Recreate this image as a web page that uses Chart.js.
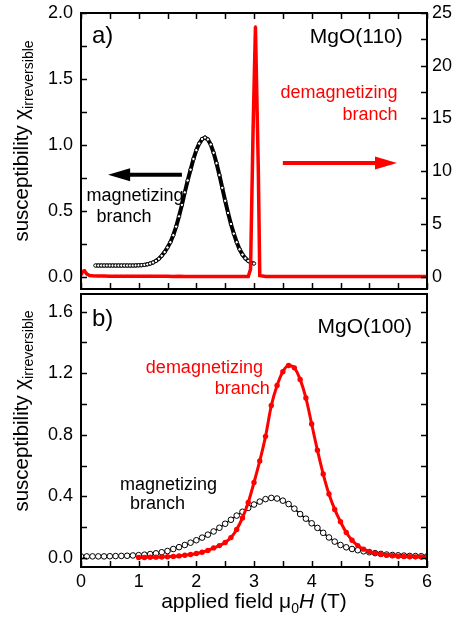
<!DOCTYPE html>
<html>
<head>
<meta charset="utf-8">
<script src="https://cdn.jsdelivr.net/npm/chart.js@4.4.1/dist/chart.umd.min.js"></script>
<style>
    html, body { margin: 0; padding: 0; background: #fff; }
    #wrap { position: relative; width: 453px; height: 621px; }
    #chartA { position: absolute; left: 0; top: 0; }
    #chartB { position: absolute; left: 0; top: 289px; }
</style>
</head>
<body>
<div id="wrap">
    <canvas id="chartA" width="453" height="300"></canvas>
    <canvas id="chartB" width="453" height="332"></canvas>
</div>
<script>
// ---- data ----
// panel a) MgO(110), magnetizing branch (left axis)
const topMagField = [0.25, 0.30, 0.35, 0.40, 0.45, 0.50, 0.55, 0.60, 0.65, 0.70, 0.75, 0.80, 0.85, 0.90, 0.95,
    1.00, 1.05, 1.10, 1.15, 1.20, 1.25, 1.30, 1.35, 1.40, 1.45, 1.50, 1.55, 1.60, 1.65, 1.70, 1.75, 1.80, 1.85, 1.90, 1.95,
    2.00, 2.05, 2.10, 2.15, 2.20, 2.25, 2.30, 2.35, 2.40, 2.45, 2.50, 2.55, 2.60, 2.65, 2.70, 2.75, 2.80, 2.85, 2.90, 2.95, 3.00];
const topMagChi = [0.085, 0.085, 0.085, 0.085, 0.085, 0.085, 0.085, 0.085, 0.085, 0.085, 0.085, 0.085, 0.085, 0.085, 0.086,
    0.087, 0.088, 0.090, 0.094, 0.100, 0.108, 0.120, 0.136, 0.159, 0.187, 0.222, 0.262, 0.315, 0.380, 0.458, 0.545, 0.640, 0.730, 0.812, 0.893,
    0.960, 1.010, 1.044, 1.055, 1.041, 1.003, 0.940, 0.861, 0.771, 0.674, 0.576, 0.484, 0.400, 0.327, 0.262, 0.208, 0.168, 0.140, 0.120, 0.107, 0.100];

// panel a) demagnetizing branch (right axis)
const topDemagField = [0, 0.03, 0.06, 0.10, 0.15, 0.2, 0.3, 0.4, 0.5, 0.6, 0.7, 0.8, 0.9, 1.0, 1.1, 1.2, 1.3, 1.4, 1.5,
    1.6, 1.7, 1.8, 1.9, 2.0, 2.1, 2.2, 2.3, 2.4, 2.5, 2.6, 2.7, 2.8, 2.9, 2.94, 2.985, 3.025, 3.075, 3.1,
    3.2, 3.3, 3.4, 3.5, 3.6, 3.7, 3.8, 3.9, 4.0, 4.1, 4.2, 4.3, 4.4, 4.5, 4.6, 4.7, 4.8, 4.9, 5.0,
    5.1, 5.2, 5.3, 5.4, 5.5, 5.6, 5.7, 5.8, 5.9, 6.0];
const topDemagChi = [0.15, 0.50, 0.55, 0.25, 0.10, 0.08, 0.06, 0.06, 0.05, 0.05, 0.04, 0.05, 0.04, 0.04, 0.03, 0.04, 0.03, 0.03, 0.03,
    0.02, 0.03, 0.02, 0.02, 0.02, 0.02, 0.02, 0.01, 0.02, 0.01, 0.01, 0.01, 0.01, 0.02, 0.7, 14.2, 23.7, 10.1, 0.1,
    0.02, 0.02, 0.02, 0.02, 0.02, 0.02, 0.02, 0.02, 0.02, 0.02, 0.02, 0.02, 0.02, 0.02, 0.02, 0.02, 0.02, 0.02, 0.02,
    0.02, 0.02, 0.02, 0.02, 0.02, 0.02, 0.02, 0.02, 0.02, 0.02];

// panel b) MgO(100), magnetizing branch
const botMagField = [0.0, 0.1, 0.2, 0.3, 0.4, 0.5, 0.6, 0.7, 0.8, 0.9, 1.0, 1.1, 1.2, 1.3, 1.4, 1.5, 1.6, 1.7, 1.8, 1.9,
    2.0, 2.1, 2.2, 2.3, 2.4, 2.5, 2.6, 2.7, 2.8, 2.9, 3.0, 3.1, 3.2, 3.3, 3.4, 3.5, 3.6, 3.7, 3.8, 3.9,
    4.0, 4.1, 4.2, 4.3, 4.4, 4.5, 4.6, 4.7, 4.8, 4.9, 5.0, 5.1, 5.2, 5.3, 5.4, 5.5, 5.6, 5.7, 5.8, 5.9, 6.0];
const botMagChi = [0.010, 0.010, 0.010, 0.010, 0.010, 0.011, 0.012, 0.013, 0.014, 0.016, 0.018, 0.021, 0.025, 0.030, 0.037, 0.045, 0.058, 0.070, 0.084, 0.099,
    0.115, 0.132, 0.151, 0.172, 0.196, 0.222, 0.248, 0.275, 0.300, 0.325, 0.347, 0.366, 0.382, 0.390, 0.386, 0.372, 0.350, 0.320, 0.285, 0.255,
    0.225, 0.195, 0.163, 0.133, 0.106, 0.084, 0.069, 0.058, 0.050, 0.043, 0.037, 0.031, 0.026, 0.022, 0.019, 0.017, 0.015, 0.013, 0.012, 0.011, 0.010];

// panel b) demagnetizing branch
const botDemagField = [1.0, 1.1, 1.2, 1.3, 1.4, 1.5, 1.6, 1.7, 1.8, 1.9, 2.0, 2.1, 2.2, 2.3, 2.4, 2.5, 2.6, 2.7, 2.8, 2.9,
    3.0, 3.1, 3.2, 3.3, 3.4, 3.5, 3.6, 3.7, 3.8, 3.9, 4.0, 4.1, 4.2, 4.3, 4.4, 4.5, 4.6, 4.7, 4.8, 4.9,
    5.0, 5.1, 5.2, 5.3, 5.4, 5.5, 5.6, 5.7, 5.8, 5.9, 6.0];
const botDemagChi = [0.003, 0.003, 0.004, 0.005, 0.006, 0.008, 0.010, 0.013, 0.017, 0.022, 0.029, 0.037, 0.049, 0.065, 0.080, 0.100, 0.132, 0.185, 0.260, 0.360,
    0.490, 0.630, 0.790, 0.990, 1.120, 1.210, 1.250, 1.235, 1.160, 1.040, 0.870, 0.700, 0.545, 0.415, 0.315, 0.235, 0.165, 0.115, 0.080, 0.057,
    0.042, 0.031, 0.023, 0.018, 0.014, 0.011, 0.009, 0.008, 0.007, 0.006, 0.005];

// tick labels
const xTicks = [0, 1, 2, 3, 4, 5, 6];
const topLeftTicks = [0, 0.5, 1.0, 1.5, 2.0];
const topRightTicks = [0, 5, 10, 15, 20, 25];
const botTicks = [0, 0.4, 0.8, 1.2, 1.6];

const FONT = '"Liberation Sans", Arial, Helvetica, sans-serif';
const RED = '#ff0000';

function pairs(xs, ys) {
    return xs.map((x, i) => ({ x: x, y: ys[i] }));
}

// majors plus a minor mark halfway between each pair
function withMinor(arr) {
    const out = [];
    for (let i = 0; i < arr.length; i++) {
        out.push(arr[i]);
        if (i < arr.length - 1) out.push((arr[i] + arr[i + 1]) / 2);
    }
    return out;
}

function fixTicks(values) {
    return function(scale) {
        scale.ticks = values.map(v => ({ value: v }));
    };
}

// fixed axis sizes, no label overflow padding
function fitWidth(w) {
    return function(s) { s.width = w; s.paddingTop = 0; s.paddingBottom = 0; };
}
function fitHeight(h) {
    return function(s) { s.height = h; s.paddingLeft = 0; s.paddingRight = 0; };
}

// frame + inward tick marks
const frameTicks = {
    id: 'frameTicks',
    afterDatasetsDraw(chart, args, opts) {
        const ctx = chart.ctx;
        const a = chart.chartArea;
        ctx.save();
        ctx.strokeStyle = '#000';
        ctx.lineWidth = 1.5;
        opts.marks.forEach(m => {
            const s = chart.scales[m.scale];
            m.values.forEach(v => {
                const p = Math.round(s.getPixelForValue(v)) + 0.5;
                ctx.beginPath();
                if (m.edge === 'left') { ctx.moveTo(a.left, p); ctx.lineTo(a.left + 6, p); }
                if (m.edge === 'right') { ctx.moveTo(a.right, p); ctx.lineTo(a.right - 6, p); }
                if (m.edge === 'bottom') { ctx.moveTo(p, a.bottom); ctx.lineTo(p, a.bottom - 6); }
                if (m.edge === 'top') { ctx.moveTo(p, a.top); ctx.lineTo(p, a.top + 6); }
                ctx.stroke();
            });
        });
        ctx.lineWidth = 2;
        ctx.strokeRect(a.left, a.top, a.right - a.left, a.bottom - a.top);
        ctx.restore();
    }
};

// text labels and arrows placed in data coordinates
const notes = {
    id: 'notes',
    afterDraw(chart, args, opts) {
        const ctx = chart.ctx;
        const sx = chart.scales.x;
        const sy = chart.scales.y;
        ctx.save();
        (opts.texts || []).forEach(t => {
            ctx.font = t.font;
            ctx.fillStyle = t.color;
            ctx.textAlign = t.align;
            ctx.textBaseline = 'middle';
            ctx.fillText(t.text, sx.getPixelForValue(t.x), sy.getPixelForValue(t.y));
        });
        (opts.arrows || []).forEach(ar => {
            const x1 = sx.getPixelForValue(ar.from);
            const x2 = sx.getPixelForValue(ar.to);
            const y = sy.getPixelForValue(ar.y);
            const dir = x2 > x1 ? 1 : -1;
            ctx.strokeStyle = ar.color;
            ctx.fillStyle = ar.color;
            ctx.lineWidth = 4;
            ctx.beginPath();
            ctx.moveTo(x1, y);
            ctx.lineTo(x2 - dir * 18, y);
            ctx.stroke();
            ctx.beginPath();
            ctx.moveTo(x2, y);
            ctx.lineTo(x2 - dir * 22, y - 6.5);
            ctx.lineTo(x2 - dir * 22, y + 6.5);
            ctx.closePath();
            ctx.fill();
        });
        ctx.restore();
    }
};

// axis titles with sub/italic parts
const titles = {
    id: 'titles',
    afterDraw(chart, args, opts) {
        const ctx = chart.ctx;
        ctx.save();
        ctx.fillStyle = '#000';
        ctx.textAlign = 'left';
        ctx.textBaseline = 'alphabetic';
        if (opts.yTitle) {
            ctx.save();
            ctx.translate(opts.yTitle.x, opts.yTitle.y);
            ctx.rotate(-Math.PI / 2);
            const f1 = '20.5px ' + FONT;
            const f2 = '14px ' + FONT;
            ctx.font = f1;
            const w1 = ctx.measureText('susceptibility ').width;
            const wc = ctx.measureText('\u03c7').width;
            ctx.font = f2;
            const w2 = ctx.measureText('irreversible').width;
            let x = -(w1 + wc + w2) / 2;
            ctx.font = f1;
            ctx.fillText('susceptibility ', x, 0);
            x += w1;
            ctx.fillText('\u03c7', x, 0);
            x += wc;
            ctx.font = f2;
            ctx.fillText('irreversible', x, 5);
            ctx.restore();
        }
        if (opts.xTitle) {
            const f1 = '21px ' + FONT;
            const fs = '14px ' + FONT;
            const fi = 'italic 21px ' + FONT;
            const parts = [
                { t: 'applied field \u03bc', f: f1, dy: 0 },
                { t: '0', f: fs, dy: 5 },
                { t: 'H', f: fi, dy: 0 },
                { t: ' (T)', f: f1, dy: 0 }
            ];
            let total = 0;
            parts.forEach(p => { ctx.font = p.f; p.w = ctx.measureText(p.t).width; total += p.w; });
            const a = chart.chartArea;
            let x = (a.left + a.right) / 2 - total / 2;
            parts.forEach(p => {
                ctx.font = p.f;
                ctx.fillText(p.t, x, opts.xTitle.y + p.dy);
                x += p.w;
            });
        }
        ctx.restore();
    }
};

const tickFont = { family: FONT, size: 18 };

// ---- panel a) ----
new Chart(document.getElementById('chartA'), {
    type: 'line',
    data: {
        datasets: [{
            label: 'demagnetizing branch',
            data: pairs(topDemagField, topDemagChi),
            yAxisID: 'y2',
            borderColor: RED,
            borderWidth: 3.5,
            pointRadius: 1.4,
            pointBorderWidth: 0,
            pointBackgroundColor: RED,
            tension: 0,
            order: 0
        }, {
            label: 'magnetizing branch',
            data: pairs(topMagField, topMagChi),
            yAxisID: 'y',
            borderColor: '#000',
            borderWidth: 4,
            pointRadius: 1.7,
            pointBackgroundColor: '#fff',
            pointBorderColor: '#000',
            pointBorderWidth: 1,
            tension: 0,
            order: 1
        }]
    },
    options: {
        responsive: false,
        animation: false,
        devicePixelRatio: 1,
        layout: { padding: { top: 13, bottom: 11, left: 0, right: 0 } },
        scales: {
            x: {
                type: 'linear', min: 0, max: 6,
                grid: { display: false, drawTicks: false },
                border: { display: false },
                ticks: { display: false },
                afterFit: fitHeight(0)
            },
            y: {
                position: 'left', min: -0.093, max: 2.0,
                grid: { display: false, drawTicks: false },
                border: { display: false },
                afterBuildTicks: fixTicks(topLeftTicks),
                ticks: { font: tickFont, color: '#000', padding: 8, callback: v => v.toFixed(1) },
                afterFit: fitWidth(81)
            },
            y2: {
                position: 'right', min: -1.17, max: 25,
                grid: { display: false, drawTicks: false },
                border: { display: false },
                afterBuildTicks: fixTicks(topRightTicks),
                ticks: { font: tickFont, color: '#000', padding: 5, callback: v => String(v) },
                afterFit: fitWidth(26)
            }
        },
        plugins: {
            legend: { display: false },
            tooltip: { enabled: false },
            frameTicks: {
                marks: [
                    { scale: 'x', edge: 'bottom', values: withMinor(xTicks) },
                    { scale: 'x', edge: 'top', values: withMinor(xTicks) },
                    { scale: 'y', edge: 'left', values: withMinor(topLeftTicks) },
                    { scale: 'y2', edge: 'right', values: withMinor(topRightTicks) }
                ]
            },
            notes: {
                texts: [
                    { text: 'a)', x: 0.19, y: 1.82, align: 'left', color: '#000', font: '24px ' + FONT },
                    { text: 'MgO(110)', x: 5.58, y: 1.82, align: 'right', color: '#000', font: '21px ' + FONT },
                    { text: 'demagnetizing', x: 5.49, y: 1.395, align: 'right', color: RED, font: '18px ' + FONT },
                    { text: 'branch', x: 5.49, y: 1.228, align: 'right', color: RED, font: '18px ' + FONT },
                    { text: 'magnetizing', x: 0.935, y: 0.613, align: 'center', color: '#000', font: '18px ' + FONT },
                    { text: 'branch', x: 0.745, y: 0.453, align: 'center', color: '#000', font: '18px ' + FONT }
                ],
                arrows: [
                    { from: 3.5, to: 5.48, y: 0.863, color: RED },
                    { from: 1.75, to: 0.47, y: 0.773, color: '#000' }
                ]
            },
            titles: { yTitle: { x: 28, y: 141 } }
        }
    },
    plugins: [frameTicks, notes, titles]
});

// ---- panel b) ----
new Chart(document.getElementById('chartB'), {
    type: 'line',
    data: {
        datasets: [{
            label: 'demagnetizing branch',
            data: pairs(botDemagField, botDemagChi),
            borderColor: RED,
            borderWidth: 3,
            pointRadius: 2.7,
            pointBorderWidth: 0,
            pointBackgroundColor: RED,
            cubicInterpolationMode: 'monotone',
            order: 0
        }, {
            label: 'magnetizing branch',
            data: pairs(botMagField, botMagChi),
            borderColor: '#000',
            borderWidth: 1.5,
            pointRadius: 2.8,
            pointBackgroundColor: '#fff',
            pointBorderColor: '#000',
            pointBorderWidth: 1,
            cubicInterpolationMode: 'monotone',
            order: 1
        }]
    },
    options: {
        responsive: false,
        animation: false,
        devicePixelRatio: 1,
        layout: { padding: { top: 0, bottom: 0, left: 0, right: 26 } },
        scales: {
            x: {
                type: 'linear', min: 0, max: 6,
                grid: { display: false, drawTicks: false },
                border: { display: false },
                afterBuildTicks: fixTicks(xTicks),
                ticks: { font: tickFont, color: '#000', padding: 4, maxRotation: 0, callback: v => String(v) },
                afterFit: fitHeight(54)
            },
            y: {
                position: 'left', min: -0.059, max: 1.715,
                grid: { display: false, drawTicks: false },
                border: { display: false },
                afterBuildTicks: fixTicks(botTicks),
                ticks: { font: tickFont, color: '#000', padding: 8, callback: v => v.toFixed(1) },
                afterFit: fitWidth(81)
            }
        },
        plugins: {
            legend: { display: false },
            tooltip: { enabled: false },
            frameTicks: {
                marks: [
                    { scale: 'x', edge: 'bottom', values: withMinor(xTicks) },
                    { scale: 'y', edge: 'left', values: withMinor(botTicks) },
                    { scale: 'y', edge: 'right', values: withMinor(botTicks) }
                ]
            },
            notes: {
                texts: [
                    { text: 'b)', x: 0.19, y: 1.547, align: 'left', color: '#000', font: '24px ' + FONT },
                    { text: 'MgO(100)', x: 5.74, y: 1.502, align: 'right', color: '#000', font: '21px ' + FONT },
                    { text: 'demagnetizing', x: 3.155, y: 1.235, align: 'right', color: RED, font: '18px ' + FONT },
                    { text: 'branch', x: 3.275, y: 1.10, align: 'right', color: RED, font: '18px ' + FONT },
                    { text: 'magnetizing', x: 0.676, y: 0.476, align: 'left', color: '#000', font: '18px ' + FONT },
                    { text: 'branch', x: 0.85, y: 0.349, align: 'left', color: '#000', font: '18px ' + FONT }
                ]
            },
            titles: {
                yTitle: { x: 28, y: 122 },
                xTitle: { y: 319 }
            }
        }
    },
    plugins: [frameTicks, notes, titles]
});
</script>
</body>
</html>
